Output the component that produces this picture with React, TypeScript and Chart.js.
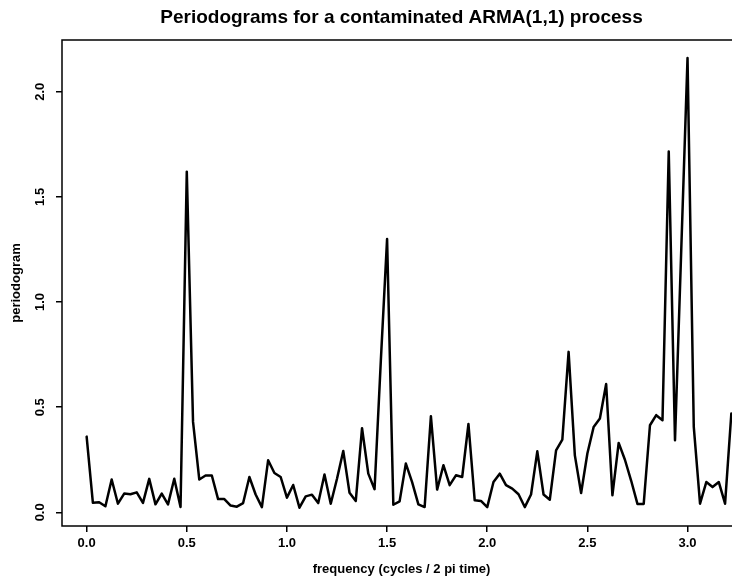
import React, { useEffect, useRef } from "react";
import { Chart, registerables } from "chart.js";

Chart.register(...registerables);

const chartTitle = "Periodograms for a contaminated ARMA(1,1) process";
const xAxisTitle = "frequency (cycles / 2 pi time)";
const yAxisTitle = "periodogram";

// Fourier frequencies are spaced 1/32 apart, starting at 0
const frequencyStep = 1 / 32;

// periodogram ordinates, one per Fourier frequency
const periodogram = [
  0.36, 0.045, 0.048, 0.029, 0.156, 0.041, 0.089, 0.086, 0.095, 0.045,
  0.159, 0.038, 0.089, 0.038, 0.16, 0.025, 1.62, 0.43, 0.156, 0.175,
  0.175, 0.063, 0.063, 0.032, 0.027, 0.044, 0.168, 0.085, 0.025, 0.248,
  0.187, 0.168, 0.07, 0.13, 0.022, 0.076, 0.084, 0.044, 0.18, 0.041,
  0.16, 0.292, 0.093, 0.054, 0.4, 0.184, 0.11, 0.72, 1.3, 0.036,
  0.052, 0.232, 0.144, 0.038, 0.025, 0.457, 0.108, 0.224, 0.129, 0.176,
  0.168, 0.42, 0.057, 0.054, 0.025, 0.144, 0.184, 0.129, 0.113, 0.086,
  0.025, 0.085, 0.29, 0.085, 0.06, 0.295, 0.346, 0.763, 0.271, 0.092,
  0.28, 0.406, 0.446, 0.61, 0.081, 0.33, 0.25, 0.15, 0.04, 0.04,
  0.414, 0.462, 0.438, 1.716, 0.343, 1.25, 2.16, 0.406, 0.041, 0.144,
  0.12, 0.144, 0.041, 0.47,
];

const xTicks = [0, 0.5, 1, 1.5, 2, 2.5, 3];
const yTicks = [0, 0.5, 1, 1.5, 2];

const FONT = "'Liberation Sans', Arial, Helvetica, sans-serif";

const boxPlugin = {
  id: "plotBox",
  afterDatasetsDraw(chart: any) {
    const { ctx, chartArea } = chart;
    const { left, top, right, bottom } = chartArea;
    ctx.save();
    ctx.strokeStyle = "#000";
    ctx.lineWidth = 1.5;
    ctx.strokeRect(left, top, right - left, bottom - top);
    ctx.restore();
  },
};

export default function App() {
  const canvasRef = useRef<HTMLCanvasElement | null>(null);

  useEffect(() => {
    const canvas = canvasRef.current;
    if (!canvas) return;
    const chart = new Chart(canvas, {
      type: "line",
      data: {
        datasets: [
          {
            data: periodogram.map((v, i) => ({ x: i * frequencyStep, y: v })),
            borderColor: "#000",
            borderWidth: 2.5,
            pointRadius: 0,
            tension: 0,
            borderJoinStyle: "round",
            borderCapStyle: "round",
            fill: false,
          },
        ],
      },
      plugins: [boxPlugin],
      options: {
        responsive: false,
        animation: false,
        devicePixelRatio: 1,
        layout: { padding: { top: 0, left: 0, right: 4, bottom: 0 } },
        plugins: {
          legend: { display: false },
          tooltip: { enabled: false },
          title: {
            display: true,
            text: chartTitle,
            fullSize: false,
            color: "#000",
            font: { family: FONT, size: 19, weight: "bold" },
            padding: { top: 6, bottom: 11.2 },
          },
        },
        scales: {
          x: {
            type: "linear",
            min: -0.123,
            max: 3.267,
            afterBuildTicks: (scale: any) => {
              scale.ticks = xTicks.map((v) => ({ value: v }));
            },
            afterFit: (scale: any) => {
              scale.height = 51;
            },
            ticks: {
              color: "#000",
              font: { family: FONT, size: 13, weight: "bold" },
              padding: 4,
              maxRotation: 0,
              autoSkip: false,
              callback: (v: any) => Number(v).toFixed(1),
            },
            grid: {
              drawOnChartArea: false,
              drawTicks: true,
              tickLength: 6,
              color: "#000",
              lineWidth: 1.5,
            },
            border: { display: false },
            title: {
              display: true,
              text: xAxisTitle,
              color: "#000",
              font: { family: FONT, size: 13, weight: "bold" },
              padding: { top: 2, bottom: 0 },
            },
          },
          y: {
            type: "linear",
            min: -0.065,
            max: 2.246,
            afterBuildTicks: (scale: any) => {
              scale.ticks = yTicks.map((v) => ({ value: v }));
            },
            afterFit: (scale: any) => {
              scale.width = 62;
            },
            ticks: {
              color: "#000",
              font: { family: FONT, size: 13, weight: "bold" },
              padding: 6.5,
              minRotation: 90,
              maxRotation: 90,
              crossAlign: "center",
              autoSkip: false,
              callback: (v: any) => Number(v).toFixed(1),
            },
            grid: {
              drawOnChartArea: false,
              drawTicks: true,
              tickLength: 6,
              color: "#000",
              lineWidth: 1.5,
            },
            border: { display: false },
            title: {
              display: true,
              text: yAxisTitle,
              color: "#000",
              font: { family: FONT, size: 13, weight: "bold" },
              padding: { top: 9, bottom: 0 },
            },
          },
        },
      },
    } as any);
    return () => chart.destroy();
  }, []);

  return (
    <div
      style={{
        position: "fixed",
        left: 0,
        top: 0,
        width: 732,
        height: 577,
        overflow: "hidden",
        background: "#fff",
      }}
    >
      <canvas ref={canvasRef} width={745} height={577} style={{ display: "block" }} />
    </div>
  );
}
